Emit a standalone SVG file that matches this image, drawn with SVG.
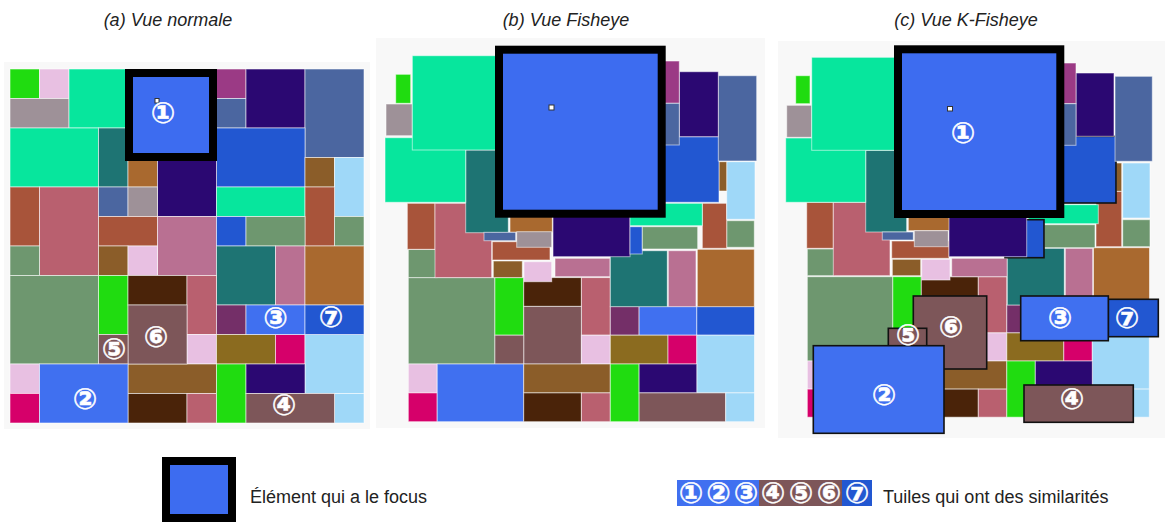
<svg xmlns="http://www.w3.org/2000/svg" width="1167" height="523" viewBox="0 0 1167 523">
<style>
.t{stroke:#ffffff;stroke-opacity:.55;stroke-width:1}
.k{stroke:#111;stroke-width:1.6}
.gr{fill:#20dc10}.lp{fill:#e8c0e2}.gy{fill:#9e9198}.tg{fill:#07e69d}.fb{fill:#3d6cf0}
.mp{fill:#9b3a85}.bg{fill:#4b66a0}.dp{fill:#2b0872}.dt{fill:#1e7473}.ry{fill:#2257d1}
.or{fill:#a9692f}.br{fill:#8b5d29}.lb{fill:#9fd8f8}.bk{fill:#a8543a}.pr{fill:#b9606f}
.mk{fill:#b97092}.sg{fill:#6e976f}.db{fill:#4a2309}.mv{fill:#7d5659}.pl{fill:#742f68}
.ol{fill:#8b6b1f}.mg{fill:#d6006a}.b2{fill:#4070f0}
.focus{stroke:#000;stroke-width:8;fill:#3d6cf0}
.dot{fill:#fff;stroke:#333;stroke-width:1}
.lbl{font-family:"DejaVu Sans",sans-serif;font-size:29px;font-weight:bold;fill:#fff;stroke:#fff;stroke-width:.5;text-anchor:middle;dominant-baseline:central}
.ttl{font-family:"Liberation Sans",Arial,sans-serif;font-style:italic;font-size:18px;fill:#222;text-anchor:middle}
.leg{font-family:"Liberation Sans",Arial,sans-serif;font-size:18px;fill:#222}
.bgp{fill:#f8f8f8}
</style>

<text class="ttl" x="168" y="26">(a) Vue normale</text>
<text class="ttl" x="566" y="26">(b) Vue Fisheye</text>
<text class="ttl" x="966" y="26">(c) Vue K-Fisheye</text>

<!-- Panel (a) -->
<g id="panel-a">
<rect class="bgp" x="4" y="62" width="366" height="367"/>
<rect class="t gr" x="10" y="69" width="29.5" height="29.5"/>
<rect class="t lp" x="39.5" y="69" width="29.5" height="29.5"/>
<rect class="t gy" x="10" y="98.5" width="59" height="29.5"/>
<rect class="t tg" x="69" y="69" width="59" height="59"/>
<rect class="t mp" x="216.5" y="69" width="29.5" height="29.5"/>
<rect class="t bg" x="216.5" y="98.5" width="29.5" height="29.5"/>
<rect class="t dp" x="246" y="69" width="59" height="59"/>
<rect class="t bg" x="305" y="69" width="59" height="88.5"/>
<rect class="t tg" x="10" y="128" width="88.5" height="59"/>
<rect class="t dt" x="98.5" y="128" width="29.5" height="59"/>
<rect class="t ry" x="216.5" y="128" width="88.5" height="59"/>
<rect class="t or" x="128" y="157.5" width="29.5" height="29.5"/>
<rect class="t dp" x="157.5" y="157.5" width="59" height="59"/>
<rect class="t br" x="305" y="157.5" width="29.5" height="29.5"/>
<rect class="t lb" x="334.5" y="157.5" width="29.5" height="59"/>
<rect class="t bk" x="10" y="187" width="29.5" height="59"/>
<rect class="t pr" x="39.5" y="187" width="59" height="88.5"/>
<rect class="t bg" x="98.5" y="187" width="29.5" height="29.5"/>
<rect class="t gy" x="128" y="187" width="29.5" height="29.5"/>
<rect class="t tg" x="216.5" y="187" width="88.5" height="29.5"/>
<rect class="t bk" x="305" y="187" width="29.5" height="59"/>
<rect class="t bk" x="98.5" y="216.5" width="59" height="29.5"/>
<rect class="t mk" x="157.5" y="216.5" width="59" height="59"/>
<rect class="t ry" x="216.5" y="216.5" width="29.5" height="29.5"/>
<rect class="t sg" x="246" y="216.5" width="59" height="29.5"/>
<rect class="t sg" x="334.5" y="216.5" width="29.5" height="29.5"/>
<rect class="t sg" x="10" y="246" width="29.5" height="29.5"/>
<rect class="t br" x="98.5" y="246" width="29.5" height="29.5"/>
<rect class="t lp" x="128" y="246" width="29.5" height="29.5"/>
<rect class="t dt" x="216.5" y="246" width="59" height="59"/>
<rect class="t mk" x="275.5" y="246" width="29.5" height="59"/>
<rect class="t or" x="305" y="246" width="59" height="59"/>
<rect class="t sg" x="10" y="275.5" width="88.5" height="88.5"/>
<rect class="t gr" x="98.5" y="275.5" width="29.5" height="59"/>
<rect class="t db" x="128" y="275.5" width="59" height="29.5"/>
<rect class="t pr" x="187" y="275.5" width="29.5" height="59"/>
<rect class="t pl" x="216.5" y="305" width="29.5" height="29.5"/>
<rect class="t lp" x="187" y="334.5" width="29.5" height="29.5"/>
<rect class="t ol" x="216.5" y="334.5" width="59" height="29.5"/>
<rect class="t mg" x="275.5" y="334.5" width="29.5" height="29.5"/>
<rect class="t lb" x="305" y="334.5" width="59" height="59"/>
<rect class="t lp" x="10" y="364" width="29.5" height="29.5"/>
<rect class="t mg" x="10" y="393.5" width="29.5" height="29.5"/>
<rect class="t br" x="128" y="364" width="88.5" height="29.5"/>
<rect class="t db" x="128" y="393.5" width="59" height="29.5"/>
<rect class="t pr" x="187" y="393.5" width="29.5" height="29.5"/>
<rect class="t gr" x="216.5" y="364" width="29.5" height="59"/>
<rect class="t dp" x="246" y="364" width="59" height="29.5"/>
<rect class="t lb" x="334.5" y="393.5" width="29.5" height="29.5"/>
<g id="a-n6"><rect class="t mv" x="128" y="305" width="59" height="59"/><text class="lbl" x="156" y="337">⑥</text></g>
<g id="a-n5"><rect class="t mv" x="98.5" y="334.5" width="29.5" height="29.5"/><text class="lbl" x="114" y="349">⑤</text></g>
<g id="a-n3"><rect class="t b2" x="246" y="305" width="59" height="29.5"/><text class="lbl" x="275.5" y="318">③</text></g>
<g id="a-n7"><rect class="t ry" x="305" y="305" width="59" height="29.5"/><text class="lbl" x="331" y="317">⑦</text></g>
<g id="a-n2"><rect class="t b2" x="39.5" y="364" width="88.5" height="59"/><text class="lbl" x="85" y="399">②</text></g>
<g id="a-n4"><rect class="t mv" x="246" y="393.5" width="88.5" height="29.5"/><text class="lbl" x="284" y="405">④</text></g>
<g id="a-n1"><rect class="focus" x="129" y="73" width="84" height="84"/><rect class="dot" x="155" y="98.5" width="4" height="4.5"/><text class="lbl" x="163" y="113">①</text></g>
</g>

<!-- Panel (b) -->
<g id="panel-b">
<rect class="bgp" x="376" y="38" width="389" height="390"/>
<rect class="t sg" x="408.3" y="277.6" width="86.6" height="86.4"/>
<rect class="t gr" x="494.9" y="277.6" width="28.8" height="57.6"/>
<rect class="t db" x="523.7" y="277.6" width="57.7" height="28.8"/>
<rect class="t pr" x="581.4" y="277.6" width="28.9" height="57.6"/>
<rect class="t mv" x="523.7" y="306.4" width="57.7" height="57.6"/>
<rect class="t pl" x="610.3" y="306.4" width="28.8" height="28.8"/>
<rect class="t b2" x="639.1" y="306.4" width="57.7" height="28.8"/>
<rect class="t ry" x="696.8" y="306.4" width="57.7" height="28.8"/>
<rect class="t mv" x="494.9" y="335.2" width="28.8" height="28.8"/>
<rect class="t lp" x="581.4" y="335.2" width="28.9" height="28.8"/>
<rect class="t ol" x="610.3" y="335.2" width="57.7" height="28.8"/>
<rect class="t mg" x="668" y="335.2" width="28.8" height="28.8"/>
<rect class="t lb" x="696.8" y="335.2" width="57.7" height="57.7"/>
<rect class="t lp" x="408.3" y="364" width="28.9" height="28.9"/>
<rect class="t mg" x="408.3" y="392.9" width="28.9" height="28.8"/>
<rect class="t b2" x="437.2" y="364" width="86.5" height="57.7"/>
<rect class="t br" x="523.7" y="364" width="86.6" height="28.9"/>
<rect class="t db" x="523.7" y="392.9" width="57.7" height="28.8"/>
<rect class="t pr" x="581.4" y="392.9" width="28.9" height="28.8"/>
<rect class="t gr" x="610.3" y="364" width="28.8" height="57.7"/>
<rect class="t dp" x="639.1" y="364" width="57.7" height="28.9"/>
<rect class="t mv" x="639.1" y="392.9" width="86.6" height="28.8"/>
<rect class="t lb" x="725.7" y="392.9" width="28.8" height="28.8"/>
<rect class="t sg" x="408.3" y="249.5" width="28.9" height="28.1"/>
<rect class="t br" x="493.3" y="261" width="29" height="16.6"/>
<rect class="t mk" x="555" y="258.3" width="55" height="18.4"/>
<rect class="t dt" x="610.3" y="250.7" width="57" height="56"/>
<rect class="t mk" x="668.3" y="250.7" width="27.7" height="56"/>
<rect class="t or" x="697.3" y="249.3" width="57" height="57.4"/>
<rect class="t lp" x="524" y="261.7" width="27.7" height="20"/>
<rect class="t bk" x="407.3" y="203.3" width="27.7" height="46"/>
<rect class="t pr" x="435" y="203.3" width="56.7" height="74.3"/>
<rect class="t bk" x="492.3" y="241.7" width="57.7" height="18.3"/>
<rect class="t dp" x="553" y="195" width="77" height="61.7"/>
<rect class="t ry" x="630" y="226.7" width="12.3" height="27.3"/>
<rect class="t sg" x="642.3" y="226.7" width="55.4" height="22.3"/>
<rect class="t sg" x="726.7" y="220.7" width="27.6" height="26.6"/>
<rect class="t bk" x="702.3" y="203.3" width="24.4" height="45"/>
<rect class="t tg" x="630" y="203.3" width="72.3" height="22.4"/>
<rect class="t lb" x="726.7" y="161.7" width="28.3" height="57.6"/>
<rect class="t br" x="719" y="161.7" width="7.7" height="29.3"/>
<rect class="t dt" x="465.7" y="150" width="42.6" height="82.7"/>
<rect class="t or" x="510" y="195" width="42.3" height="37.3"/>
<rect class="t bg" x="484" y="232.3" width="31.7" height="8.4"/>
<rect class="t gy" x="516.7" y="231.7" width="35" height="15.6"/>
<rect class="t tg" x="385" y="137.7" width="80.7" height="64.6"/>
<rect class="t gy" x="386" y="104" width="26.3" height="31.7"/>
<rect class="t gr" x="395.7" y="74.3" width="15" height="29"/>
<rect class="t ry" x="600" y="136.7" width="119" height="65.6"/>
<rect class="t bg" x="718.3" y="75.7" width="38.4" height="85.3"/>
<rect class="t dp" x="679.3" y="71.7" width="39" height="65"/>
<rect class="t mp" x="650" y="61" width="29.3" height="42.3"/>
<rect class="t bg" x="650" y="103.3" width="29.3" height="41.7"/>
<rect class="t tg" x="412.3" y="55.7" width="108" height="94.3"/>
<g id="b-n1"><rect class="focus" x="499" y="49.7" width="162.7" height="164"/><rect class="dot" x="549" y="105" width="5" height="5"/></g>
</g>

<!-- Panel (c) -->
<g id="panel-c">
<rect class="bgp" x="778" y="41" width="387" height="397"/>
<rect class="t sg" x="807.3" y="276.7" width="85.5" height="84.3"/>
<rect class="t gr" x="892.8" y="276.7" width="28.5" height="56.2"/>
<rect class="t db" x="921.3" y="276.7" width="57" height="28.1"/>
<rect class="t pr" x="978.3" y="276.7" width="28.5" height="56.2"/>
<rect class="t pl" x="1006.8" y="304.8" width="28.5" height="28.1"/>
<rect class="t lp" x="978.3" y="332.9" width="28.5" height="28.1"/>
<rect class="t ol" x="1006.8" y="332.9" width="57" height="28.1"/>
<rect class="t mg" x="1063.8" y="332.9" width="28.5" height="28.1"/>
<rect class="t lb" x="1092.3" y="332.9" width="57" height="56.2"/>
<rect class="t lp" x="807.3" y="361" width="28.5" height="28.1"/>
<rect class="t mg" x="807.3" y="389.1" width="28.5" height="28.1"/>
<rect class="t br" x="921.3" y="361" width="85.5" height="28.1"/>
<rect class="t db" x="921.3" y="389.1" width="57" height="28.1"/>
<rect class="t pr" x="978.3" y="389.1" width="28.5" height="28.1"/>
<rect class="t gr" x="1006.8" y="361" width="28.5" height="56.2"/>
<rect class="t dp" x="1035.3" y="361" width="57" height="28.1"/>
<rect class="t lb" x="1120.8" y="389.1" width="28.5" height="28.1"/>
<rect class="t sg" x="807.3" y="249" width="27.7" height="26.7"/>
<rect class="t br" x="892.3" y="259.3" width="28.4" height="16.4"/>
<rect class="t mk" x="951.7" y="258.3" width="55.6" height="18.4"/>
<rect class="t dt" x="1007.3" y="248.3" width="57" height="56.7"/>
<rect class="t mk" x="1065.3" y="248.3" width="27.4" height="56.7"/>
<rect class="t or" x="1093.5" y="247.7" width="56" height="57.3"/>
<rect class="t lp" x="921.7" y="259.3" width="28.3" height="20.7"/>
<rect class="t bk" x="806.7" y="202.3" width="26.6" height="46"/>
<rect class="t pr" x="833.3" y="202.3" width="56.7" height="73.4"/>
<rect class="t bk" x="891.7" y="241" width="57.3" height="17.3"/>
<rect class="t sg" x="1044" y="224.7" width="51" height="23"/>
<rect class="t sg" x="1122.7" y="219.7" width="27.3" height="27"/>
<rect class="t bk" x="1096" y="191.3" width="25.7" height="55.4"/>
<rect class="t tg" x="1028.3" y="204.7" width="70" height="19"/>
<rect class="t lb" x="1122.7" y="163" width="27.3" height="55"/>
<rect class="t br" x="1116" y="163" width="5.7" height="28.3"/>
<rect class="t dt" x="865.7" y="150.3" width="41" height="81.7"/>
<rect class="t or" x="908.3" y="195" width="42.7" height="35.7"/>
<rect class="t bg" x="882.3" y="232" width="31" height="8"/>
<rect class="t gy" x="914.3" y="230.7" width="34" height="16"/>
<rect class="t tg" x="785.7" y="138" width="80" height="64.3"/>
<rect class="t gy" x="786.7" y="105.3" width="25" height="32"/>
<rect class="t gr" x="795.7" y="75.7" width="14.3" height="28"/>
<rect class="k ry" x="1000" y="136.3" width="116" height="66.7"/>
<rect class="k ry" x="1005" y="219.7" width="39" height="38"/>
<rect class="t dp" x="949" y="195" width="77.7" height="61.7"/>
<rect class="t bg" x="1115" y="76.3" width="37.3" height="85"/>
<rect class="t dp" x="1076" y="73" width="38" height="63.3"/>
<rect class="t mp" x="1050" y="63" width="26" height="40.7"/>
<rect class="t bg" x="1050" y="103.7" width="26" height="41.6"/>
<rect class="t tg" x="811.7" y="57.3" width="108" height="93"/>
<g id="c-n1"><rect class="focus" x="898" y="49.3" width="162.3" height="164.7"/><rect class="dot" x="947.5" y="106.5" width="5" height="4.5"/><text class="lbl" x="963" y="133">①</text></g>
<g id="c-n7"><rect class="k ry" x="1108.3" y="299.3" width="50" height="37.4"/><text class="lbl" x="1127" y="318">⑦</text></g>
<g id="c-n3"><rect class="k b2" x="1020.7" y="296" width="87.6" height="44.7"/><text class="lbl" x="1060" y="318">③</text></g>
<g id="c-n4"><rect class="k mv" x="1024" y="385" width="109.3" height="37.3"/><text class="lbl" x="1072" y="399">④</text></g>
<g id="c-n6"><rect class="k mv" x="913.3" y="296" width="73.4" height="73"/><text class="lbl" x="951" y="327">⑥</text></g>
<g id="c-n5"><rect class="k mv" x="888.3" y="328.3" width="38.4" height="30"/></g>
<g id="c-n2"><rect class="k b2" x="813.3" y="345.7" width="130.7" height="87.6"/><text class="lbl" x="884" y="395">②</text></g>
<text class="lbl" x="908" y="335">⑤</text>
</g>

<!-- Legend -->
<g id="legend-focus">
<rect class="focus" x="166" y="461" width="66" height="57"/>
<text class="leg" x="250" y="503">Élément qui a le focus</text>
</g>
<g id="legend-sim">
<rect class="b2" x="677" y="480" width="82" height="26"/>
<rect class="mv" x="759" y="480" width="83" height="26"/>
<rect class="ry" x="842" y="480" width="30" height="26"/>
<text class="lbl" x="691" y="493">①</text>
<text class="lbl" x="718.5" y="493">②</text>
<text class="lbl" x="746" y="493">③</text>
<text class="lbl" x="773" y="493">④</text>
<text class="lbl" x="801" y="493">⑤</text>
<text class="lbl" x="829" y="493">⑥</text>
<text class="lbl" x="857" y="493">⑦</text>
<text class="leg" x="883" y="503">Tuiles qui ont des similarités</text>
</g>
</svg>
